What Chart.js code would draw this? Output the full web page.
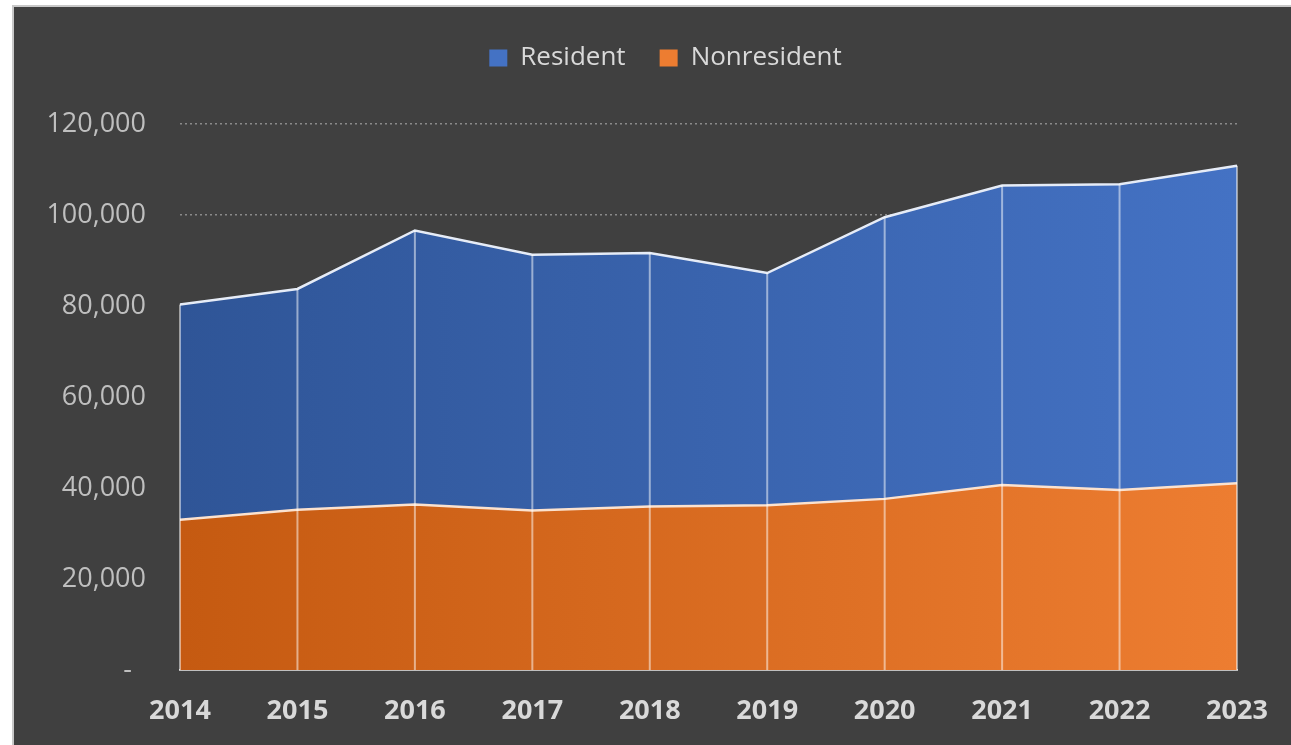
<!DOCTYPE html>
<html>
<head>
<meta charset="utf-8">
<script src="https://cdn.jsdelivr.net/npm/chart.js@4.4.1/dist/chart.umd.min.js"></script>
<style>
  html, body { margin: 0; padding: 0; background: #ffffff; }
  #frame {
    position: absolute; left: 12px; top: 5px; width: 1277px; height: 738px;
    background: #404040; border-left: 2px solid #c8c8c8; border-top: 2px solid #c8c8c8;
  }
  #chart { display: block; }
</style>
</head>
<body>
<div id="frame"><canvas id="chart" width="1277" height="738"></canvas></div>
<script>
// chart data
const years = ['2014', '2015', '2016', '2017', '2018', '2019', '2020', '2021', '2022', '2023'];
const nonresident = [33010, 35200, 36360, 35050, 35930, 36210, 37610, 40680, 39580, 41030];
const resident = [47320, 48550, 60240, 56230, 55700, 51040, 61910, 65780, 67170, 69810];
const yTicks = [0, 20000, 40000, 60000, 80000, 100000, 120000];

// horizontal gradient across the plot area
function gradient(ctx, from, to) {
    const area = ctx.chart.chartArea;
    if (!area) return to;
    const g = ctx.chart.ctx.createLinearGradient(area.left, 0, area.right, 0);
    g.addColorStop(0, from);
    g.addColorStop(1, to);
    return g;
}

// white drop lines from the top of the stack down to the axis
const dropLines = {
    id: 'dropLines',
    afterDatasetsDraw(chart) {
        const top = chart.getDatasetMeta(1).data;
        const x = chart.scales.x, y = chart.scales.y;
        const c = chart.ctx;
        c.save();
        c.strokeStyle = 'rgba(255,255,255,0.5)';
        c.lineWidth = 2;
        top.forEach((pt, i) => {
            const px = x.getPixelForValue(i);
            c.beginPath();
            c.moveTo(px, pt.y);
            c.lineTo(px, y.getPixelForValue(0));
            c.stroke();
        });
        c.restore();
    }
};

// extra room under the legend, and centre it over the plot instead of the canvas
const legendTweak = {
    id: 'legendTweak',
    beforeLayout(chart) {
        const lg = chart.legend;
        if (!lg || lg._patched) return;
        const fit = lg.fit.bind(lg);
        const draw = lg.draw.bind(lg);
        lg.fit = function () { fit(); this.height += 43; };
        lg.draw = function () {
            const c = chart.ctx;
            c.save();
            c.translate(40, 0);
            draw();
            c.restore();
        };
        lg._patched = true;
    }
};

new Chart(document.getElementById('chart'), {
    type: 'line',
    data: {
        labels: years,
        datasets: [
            {
                label: 'Nonresident',
                data: nonresident,
                fill: 'origin',
                backgroundColor: ctx => gradient(ctx, '#c55a11', '#ed7d31'),
                borderColor: '#fbe2cf',
                borderWidth: 2.5,
                pointRadius: 0,
                tension: 0
            },
            {
                label: 'Resident',
                data: resident,
                fill: '-1',
                backgroundColor: ctx => gradient(ctx, '#2f5597', '#4472c4'),
                borderColor: '#e6ecf7',
                borderWidth: 2.5,
                pointRadius: 0,
                tension: 0
            }
        ]
    },
    options: {
        responsive: false,
        animation: false,
        layout: { padding: { top: 4, right: 54, bottom: 0, left: 0 } },
        plugins: {
            tooltip: { enabled: false },
            legend: {
                position: 'top',
                labels: {
                    color: '#d9d9d9',
                    font: { family: 'Open Sans', size: 26 },
                    boxWidth: 18,
                    boxHeight: 17,
                    padding: 34,
                    generateLabels: () => [
                        { text: 'Resident', fillStyle: '#4472c4', strokeStyle: '#4472c4', lineWidth: 0, fontColor: '#d9d9d9' },
                        { text: 'Nonresident', fillStyle: '#ed7d31', strokeStyle: '#ed7d31', lineWidth: 0, fontColor: '#d9d9d9' }
                    ]
                }
            }
        },
        scales: {
            x: {
                offset: false,
                grid: { display: false },
                border: { color: '#bfbfbf', width: 2 },
                afterFit: s => { s.height = 75; },
                ticks: {
                    color: '#d9d9d9',
                    font: { family: 'Open Sans', size: 27, weight: 'bold' },
                    padding: 17,
                    maxRotation: 0
                }
            },
            y: {
                stacked: true,
                min: 0,
                max: 120000,
                afterBuildTicks: s => { s.ticks = yTicks.map(v => ({ value: v })); },
                afterFit: s => { s.width = 166; },
                border: { display: false, dash: [2, 3] },
                grid: { color: '#8a8a8a', lineWidth: 1.5, drawTicks: false },
                ticks: {
                    color: '#bfbfbf',
                    font: { family: 'Open Sans', size: 27 },
                    padding: 34,
                    callback: v => v === 0 ? '-  ' : v.toLocaleString('en-US')
                }
            }
        }
    },
    plugins: [dropLines, legendTweak]
});
</script>
</body>
</html>
